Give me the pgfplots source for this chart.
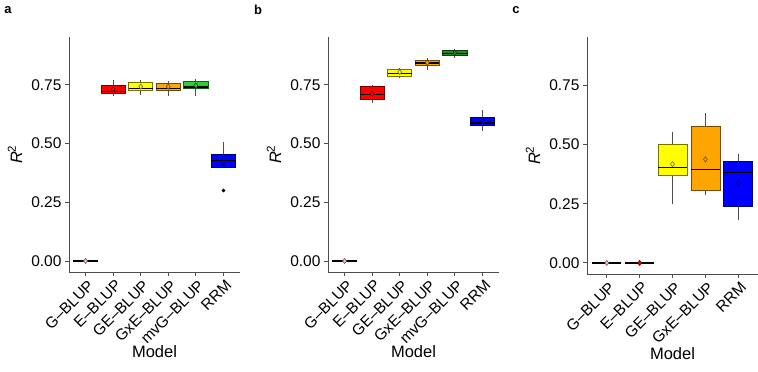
\documentclass[border=0pt]{standalone}
\usepackage{pgfplots}
\pgfplotsset{compat=1.18}
\usepackage{fontspec}
\setmainfont{Liberation Sans}
\definecolor{cG}{HTML}{FFC0CB}
\definecolor{cE}{HTML}{FF0000}
\definecolor{cGE}{HTML}{FFFF00}
\definecolor{cGxE}{HTML}{FFA500}
\definecolor{cmvA}{HTML}{33CC33}
\definecolor{cmvB}{HTML}{228B22}
\definecolor{cR}{HTML}{0000FF}
\definecolor{axgray}{HTML}{4D4D4D}
% #1 pos, #2 lower whisker, #3 lower quartile, #4 median, #5 upper quartile, #6 upper whisker, #7 colour, #8 mean
\newcommand\bx[8]{%
  \pgfmathsetmacro\xl{#1-0.44}\pgfmathsetmacro\xr{#1+0.44}%
  \addplot[axgray, line width=0.8pt] coordinates {(#1,#2) (#1,#3)};
  \addplot[axgray, line width=0.8pt] coordinates {(#1,#5) (#1,#6)};
  \addplot[fill=#7, draw=#7!45!black, line width=0.7pt] coordinates {(\xl,#3) (\xr,#3) (\xr,#5) (\xl,#5)} -- cycle;
  \addplot[black, line width=1.6pt] coordinates {(\xl,#4) (\xr,#4)};
  \addplot[only marks, mark=diamond*, mark size=2.6pt,
    mark options={fill=#7, draw=#7!45!black, line width=0.6pt}] coordinates {(#1,#8)};
}
\pgfplotsset{
  panel/.style={
    scale only axis, width=171pt, height=235pt,
    ymin=-0.047, ymax=0.954,
    axis lines=left, axis line style={-, axgray, line width=0.8pt},
    every tick/.style={axgray, line width=0.8pt},
    tick align=outside, major tick length=4pt,
    ytick={0,0.25,0.5,0.75},
    yticklabel style={/pgf/number format/fixed, /pgf/number format/fixed zerofill, /pgf/number format/precision=2, /pgf/number format/assume math mode=true},
    ticklabel style={font=\fontsize{15.5}{17}\selectfont, black},
    xticklabel style={rotate=45, anchor=north east, inner sep=1pt, yshift=-2pt},
    xlabel={Model}, xlabel style={font=\fontsize{16.5}{18}\selectfont, at={(axis description cs:0.5,0)}, anchor=center, yshift=-80pt},
    ylabel={\textit{R}\textsuperscript{2}}, ylabel style={font=\fontsize{16.5}{18}\selectfont, at={(axis description cs:-0.316,0.5)}, anchor=center},
    clip=false,
  }
}
\begin{document}
\begin{tikzpicture}
\useasboundingbox (0,0) rectangle (758pt,372pt);
% Panel a
\begin{axis}[panel, at={(69pt,100pt)}, anchor=south west,
  xmin=0.4, xmax=6.6, xtick={1,2,3,4,5,6},
  xticklabels={G--BLUP,E--BLUP,GE--BLUP,GxE--BLUP,mvG--BLUP,RRM}]
\bx{1}{0}{0}{0}{0}{0}{cG}{0}
\bx{2}{0.703}{0.712}{0.722}{0.750}{0.772}{cE}{0.731}
\bx{3}{0.705}{0.727}{0.735}{0.760}{0.770}{cGE}{0.743}
\bx{4}{0.704}{0.727}{0.735}{0.757}{0.768}{cGxE}{0.743}
\bx{5}{0.703}{0.734}{0.741}{0.764}{0.777}{cmvA}{0.748}
\bx{6}{0.400}{0.400}{0.428}{0.455}{0.505}{cR}{0.418}
\addplot[only marks, mark=*, mark size=1.6pt, black] coordinates {(6,0.30)};
\end{axis}
% Panel b
\begin{axis}[panel, at={(328pt,100pt)}, anchor=south west,
  xmin=0.4, xmax=6.6, xtick={1,2,3,4,5,6},
  xticklabels={G--BLUP,E--BLUP,GE--BLUP,GxE--BLUP,mvG--BLUP,RRM}]
\bx{1}{0}{0}{0}{0}{0}{cG}{0}
\bx{2}{0.674}{0.689}{0.709}{0.742}{0.748}{cE}{0.712}
\bx{3}{0.778}{0.787}{0.799}{0.818}{0.823}{cGE}{0.805}
\bx{4}{0.814}{0.835}{0.842}{0.853}{0.866}{cGxE}{0.845}
\bx{5}{0.864}{0.877}{0.883}{0.898}{0.904}{cmvB}{0.887}
\bx{6}{0.554}{0.578}{0.588}{0.612}{0.641}{cR}{0.596}
\end{axis}
% Panel c
\begin{axis}[panel, at={(587pt,98pt)}, anchor=south west, height=237pt,
  xmin=0.4, xmax=5.6, xtick={1,2,3,4,5},
  xticklabels={G--BLUP,E--BLUP,GE--BLUP,GxE--BLUP,RRM}]
\bx{1}{0}{0}{0}{0}{0}{cG}{0}
\bx{2}{0}{0}{0}{0}{0}{cE}{0}
\bx{3}{0.247}{0.371}{0.402}{0.500}{0.553}{cGE}{0.417}
\bx{4}{0.285}{0.307}{0.395}{0.575}{0.634}{cGxE}{0.437}
\bx{5}{0.179}{0.237}{0.381}{0.428}{0.461}{cR}{0.337}
\end{axis}
\node[font=\bfseries\fontsize{13}{14}\selectfont, anchor=center] at (8pt,362pt) {a};
\node[font=\bfseries\fontsize{13}{14}\selectfont, anchor=center] at (258pt,362pt) {b};
\node[font=\bfseries\fontsize{13}{14}\selectfont, anchor=center] at (516pt,362pt) {c};
\end{tikzpicture}
\end{document}
